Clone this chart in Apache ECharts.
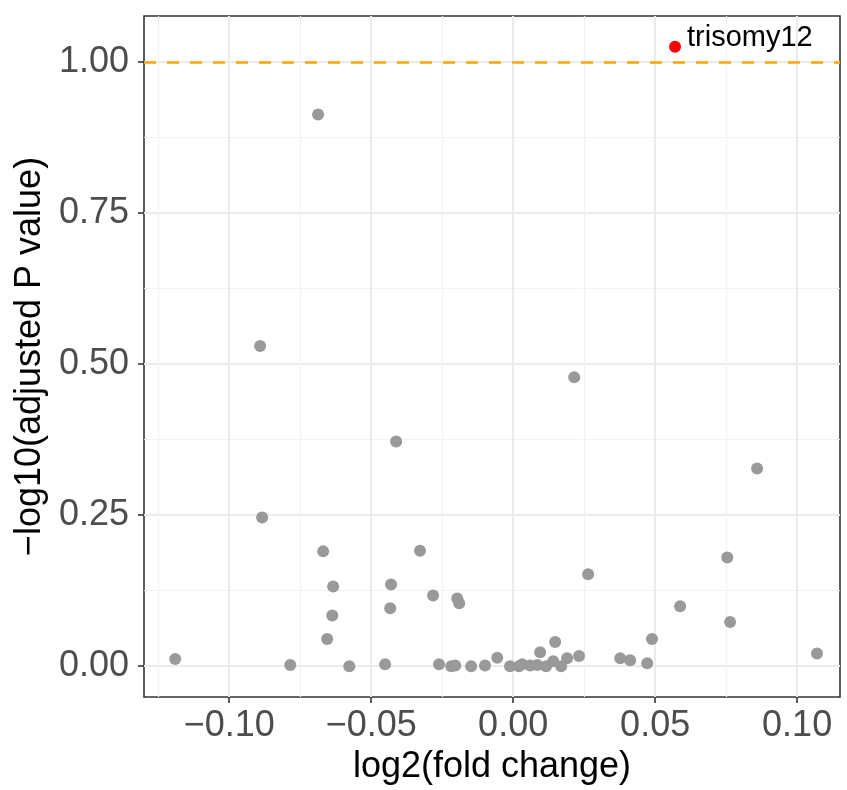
<!DOCTYPE html>
<html>
<head>
<meta charset="utf-8">
<script src="https://cdn.jsdelivr.net/npm/echarts@6/dist/echarts.min.js"></script>
<style>html,body{margin:0;padding:0;background:#fff;}#c{width:847px;height:790px;}</style>
</head>
<body>
<div id="c"></div>
<script>
// log2(fold change) values of the grey (non-significant) points
const logFC = [
  -0.0687, -0.0891, -0.0884, -0.1190, -0.0412, 0.0215, 0.0859, -0.0669, -0.0634, -0.0637,
  -0.0430, -0.0433, -0.0328, -0.0282, -0.0197, -0.0190, -0.0655, -0.0785, -0.0577, -0.0451,
  -0.0261, -0.0218, -0.0204, -0.0148, -0.0099, -0.0056, -0.0011, 0.0020, 0.0032, 0.0060,
  0.0085, 0.0095, 0.0116, 0.0141, 0.0148, 0.0169, 0.0190, 0.0232, 0.0377, 0.0412,
  0.0472, 0.0489, 0.0764, 0.1070, 0.0264, 0.0754, 0.0588
];
// -log10(adjusted P value) of the grey points
const negLogP = [
  0.913, 0.530, 0.246, 0.012, 0.372, 0.478, 0.327, 0.190, 0.132, 0.084,
  0.135, 0.096, 0.191, 0.117, 0.112, 0.104, 0.045, 0.002, 0.000, 0.003,
  0.003, 0.000, 0.001, 0.000, 0.001, 0.014, 0.000, 0.000, 0.003, 0.001,
  0.002, 0.023, 0.000, 0.008, 0.040, 0.000, 0.013, 0.017, 0.013, 0.010,
  0.005, 0.045, 0.073, 0.021, 0.152, 0.180, 0.099
];
// significant (highlighted) point
const sigNames = ["trisomy12"];
const sigLogFC = [0.0570];
const sigNegLogP = [1.025];
// threshold line
const threshold = [1.0];
// tick labels
const xMajorTicks = [-0.10, -0.05, 0.00, 0.05, 0.10];
const xMinorTicks = [-0.125, -0.075, -0.025, 0.025, 0.075];
const yMajorTicks = [0.00, 0.25, 0.50, 0.75, 1.00];
const yMinorTicks = [0.125, 0.375, 0.625, 0.875];

const greyData = logFC.map((v, i) => [v, negLogP[i]]);
const sigData = sigLogFC.map((v, i) => ({ value: [v, sigNegLogP[i]], name: sigNames[i] }));

const FONT = 'Liberation Sans, Arial, sans-serif';
const xRange = { min: -0.13, max: 0.1151 };
const yRange = { min: -0.051, max: 1.076 };

const chart = echarts.init(document.getElementById('c'), null, { renderer: 'canvas' });
chart.setOption({
  animation: false,
  backgroundColor: '#ffffff',
  grid: {
    left: 144, right: 7, top: 16, bottom: 91,
    show: true, borderColor: '#333333', borderWidth: 1.6, backgroundColor: 'transparent',
    containLabel: false
  },
  xAxis: [
    {
      type: 'value', min: xRange.min, max: xRange.max, position: 'bottom',
      name: 'log2(fold change)', nameLocation: 'middle', nameGap: 52,
      nameTextStyle: { fontFamily: FONT, fontSize: 36, color: '#000000' },
      axisLine: { show: false, onZero: false },
      axisTick: { show: true, customValues: xMajorTicks, length: 6, lineStyle: { color: '#333333', width: 1.6 } },
      axisLabel: {
        customValues: xMajorTicks, margin: 11,
        fontFamily: FONT, fontSize: 36, color: '#4D4D4D',
        formatter: v => (v < 0 ? '\u2212' : '') + Math.abs(v).toFixed(2)
      },
      splitLine: { show: true, lineStyle: { color: '#EBEBEB', width: 2 } }
    },
    {
      type: 'value', min: xRange.min, max: xRange.max, position: 'bottom',
      axisLine: { show: false, onZero: false },
      axisTick: { show: false, customValues: xMinorTicks },
      axisLabel: { show: false, customValues: xMinorTicks },
      splitLine: { show: true, lineStyle: { color: '#F2F2F2', width: 1.2 } }
    }
  ],
  yAxis: [
    {
      type: 'value', min: yRange.min, max: yRange.max, position: 'left',
      name: '\u2212log10(adjusted P value)', nameLocation: 'middle', nameGap: 96, nameRotate: 90,
      nameTextStyle: { fontFamily: FONT, fontSize: 36, color: '#000000' },
      axisLine: { show: false, onZero: false },
      axisTick: { show: true, customValues: yMajorTicks, length: 6, lineStyle: { color: '#333333', width: 1.6 } },
      axisLabel: {
        customValues: yMajorTicks, margin: 15,
        fontFamily: FONT, fontSize: 36, color: '#4D4D4D',
        formatter: v => v.toFixed(2)
      },
      splitLine: { show: true, lineStyle: { color: '#EBEBEB', width: 2 } }
    },
    {
      type: 'value', min: yRange.min, max: yRange.max, position: 'left',
      axisLine: { show: false, onZero: false },
      axisTick: { show: false, customValues: yMinorTicks },
      axisLabel: { show: false, customValues: yMinorTicks },
      splitLine: { show: true, lineStyle: { color: '#F2F2F2', width: 1.2 } }
    }
  ],
  series: [
    {
      type: 'scatter', xAxisIndex: 0, yAxisIndex: 0,
      data: greyData, symbolSize: 12,
      itemStyle: { color: '#999999', opacity: 1 },
      z: 3,
      markLine: {
        silent: true, symbol: ['none', 'none'],
        label: { show: false },
        lineStyle: { color: '#FFA500', width: 2.6, type: [12, 11] },
        data: threshold.map(t => ({ yAxis: t }))
      }
    },
    {
      type: 'scatter', xAxisIndex: 0, yAxisIndex: 0,
      data: sigData, symbolSize: 12,
      itemStyle: { color: '#FF0000', opacity: 1 },
      z: 4,
      label: {
        show: true, position: 'right', distance: 6, offset: [0, -9],
        formatter: p => p.name,
        fontFamily: FONT, fontSize: 29, color: '#000000'
      }
    }
  ]
});
</script>
</body>
</html>
